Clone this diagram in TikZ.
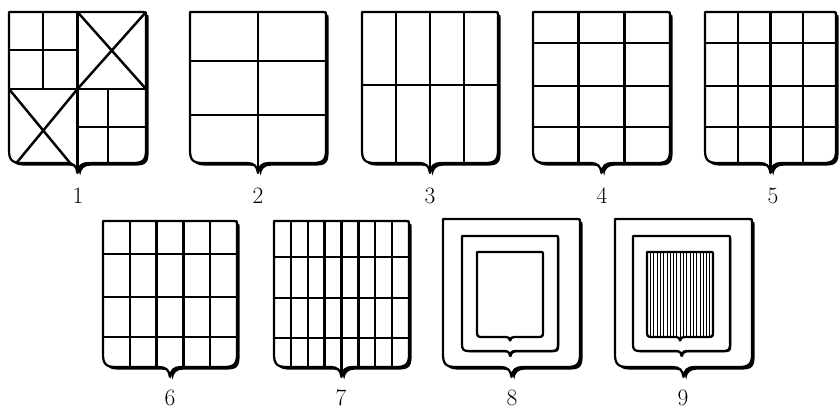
\documentclass[tikz,border=0pt]{standalone}
\usepackage{tikz}

% outline of a shield: left, top, right, bottom edge, scale of corners and point
\newcommand{\shieldpath}[5]{%
  (#1,#2) -- ({#3-3*#5},#2) .. controls (#3,#2) .. (#3,{#2+3*#5})
  -- (#3,{#4-13*#5}) .. controls (#3,{#4-3*#5}) and ({#3-3*#5},#4) .. ({#3-13*#5},#4)
  -- ({(#1+#3)/2+11*#5},#4) .. controls ({(#1+#3)/2+4*#5},#4) and ({(#1+#3)/2+1*#5},{#4+3*#5}) .. ({(#1+#3)/2},{#4+10*#5})
  .. controls ({(#1+#3)/2-1*#5},{#4+3*#5}) and ({(#1+#3)/2-4*#5},#4) .. ({(#1+#3)/2-11*#5},#4)
  -- ({#1+13*#5},#4) .. controls ({#1+3*#5},#4) and (#1,{#4-3*#5}) .. (#1,{#4-13*#5}) -- cycle}

% shadow and white ground of a shield
\newcommand{\shieldbase}[5]{%
  \fill[shadow={2.6*#5}] \shieldpath{#1}{#2}{#3}{#4}{#5};
  \fill[white] \shieldpath{#1}{#2}{#3}{#4}{#5};}

\begin{document}
\begin{tikzpicture}[
  x=0.3mm, y=-0.3mm,
  shadow/.style={fill=black, shift={(#1,#1)}},
  edge/.style={draw, line width=1.9pt, line join=round},
  bar/.style={line width=2.1pt},
  hair/.style={line width=0.5pt},
  num/.style={font=\fontsize{20}{23}\selectfont, inner sep=0pt},
]
\useasboundingbox (0,0) rectangle (840,412);

% 1: quartered
\shieldbase{9}{12}{146}{163}{1}
\begin{scope}
  \clip \shieldpath{9}{12}{146}{163}{1};
  \draw[bar] (77.5,12) -- (77.5,180) (9,89) -- (146,89);
  \draw[bar] (43,12) -- (43,89) (9,50) -- (77.5,50);
  \draw[bar] (108,89) -- (108,180) (77.5,127) -- (146,127);
  \draw[bar] (77.5,12) -- (146,89) (146,12) -- (77.5,89);
  \draw[bar] (9,89) -- (77.5,172) (77.5,89) -- (9,172);
\end{scope}
\draw[edge] \shieldpath{9}{12}{146}{163}{1};

% 2
\shieldbase{190}{12}{326}{163}{1}
\begin{scope}
  \clip \shieldpath{190}{12}{326}{163}{1};
  \draw[bar] (258,12) -- (258,180);
  \draw[bar] (190,61) -- (326,61) (190,115) -- (326,115);
\end{scope}
\draw[edge] \shieldpath{190}{12}{326}{163}{1};

% 3
\shieldbase{362}{12}{498}{163}{1}
\begin{scope}
  \clip \shieldpath{362}{12}{498}{163}{1};
  \foreach \i in {1,...,3} \draw[bar] ({362+\i*34},12) -- ++(0,170);
  \draw[bar] (362,85) -- (498,85);
\end{scope}
\draw[edge] \shieldpath{362}{12}{498}{163}{1};

% 4
\shieldbase{533}{12}{670}{163}{1}
\begin{scope}
  \clip \shieldpath{533}{12}{670}{163}{1};
  \foreach \i in {1,2} \draw[bar] ({533+\i*45.67},12) -- ++(0,170);
  \foreach \h in {43,86,127} \draw[bar] (533,\h) -- (670,\h);
\end{scope}
\draw[edge] \shieldpath{533}{12}{670}{163}{1};

% 5
\shieldbase{705}{12}{836}{163}{1}
\begin{scope}
  \clip \shieldpath{705}{12}{836}{163}{1};
  \foreach \i in {1,...,3} \draw[bar] ({705+\i*32.75},12) -- ++(0,170);
  \foreach \h in {43,86,127} \draw[bar] (705,\h) -- (836,\h);
\end{scope}
\draw[edge] \shieldpath{705}{12}{836}{163}{1};

% 6
\shieldbase{103}{221}{237}{367}{1}
\begin{scope}
  \clip \shieldpath{103}{221}{237}{367}{1};
  \foreach \i in {1,...,4} \draw[bar] ({103+\i*26.8},221) -- ++(0,170);
  \foreach \h in {254,297,337} \draw[bar] (103,\h) -- (237,\h);
\end{scope}
\draw[edge] \shieldpath{103}{221}{237}{367}{1};

% 7
\shieldbase{274}{221}{409}{367}{1}
\begin{scope}
  \clip \shieldpath{274}{221}{409}{367}{1};
  \foreach \i in {1,...,7} \draw[bar] ({274+\i*16.875},221) -- ++(0,170);
  \foreach \h in {257,298,338} \draw[bar] (274,\h) -- (409,\h);
\end{scope}
\draw[edge] \shieldpath{274}{221}{409}{367}{1};

% 8: bordure and inner shield
\shieldbase{443}{219}{580}{367}{1}
\draw[edge] \shieldpath{443}{219}{580}{367}{1};
\shieldbase{462}{236}{558}{351}{0.5}
\draw[edge] \shieldpath{462}{236}{558}{351}{0.5};
\shieldbase{477}{252}{543}{337}{0.35}
\draw[edge] \shieldpath{477}{252}{543}{337}{0.35};

% 9: same, inner field hatched
\shieldbase{615}{219}{752}{367}{1}
\draw[edge] \shieldpath{615}{219}{752}{367}{1};
\shieldbase{633}{236}{730}{351}{0.5}
\draw[edge] \shieldpath{633}{236}{730}{351}{0.5};
\shieldbase{647}{252}{713}{337}{0.35}
\begin{scope}
  \clip \shieldpath{647}{252}{713}{337}{0.35};
  \foreach \i in {1,...,19} \draw[hair] ({647+\i*3.3},252) -- ++(0,95);
\end{scope}
\draw[edge] \shieldpath{647}{252}{713}{337}{0.35};

% numbers
\node[num] (n1) at (78,196) {1};
\node[num] (n2) at (258,196) {2};
\node[num] (n3) at (430,196) {3};
\node[num] (n4) at (602,196) {4};
\node[num] (n5) at (773,196) {5};
\node[num] (n6) at (170,398) {6};
\node[num] (n7) at (341,398) {7};
\node[num] (n8) at (512,398) {8};
\node[num] (n9) at (683,398) {9};
\end{tikzpicture}
\end{document}
